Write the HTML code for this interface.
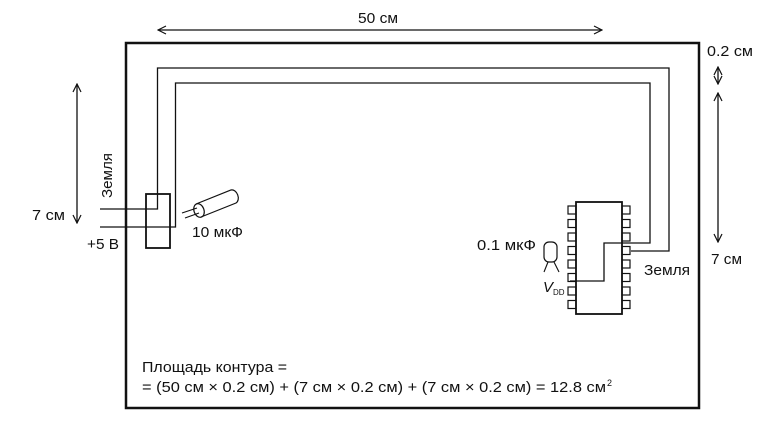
<!DOCTYPE html>
<html><head><meta charset="utf-8"><style>
html,body{margin:0;padding:0;background:#fff;}
svg{display:block;}
text{font-family:"Liberation Sans",sans-serif;fill:#111;}
</style></head><body>
<svg width="782" height="421" viewBox="0 0 782 421" font-size="15">
<defs>
<marker id="a" markerWidth="10" markerHeight="10" refX="9" refY="5" orient="auto-start-reverse" markerUnits="userSpaceOnUse">
<path d="M1,1 L9,5 L1,9" fill="none" stroke="#111" stroke-width="1.2"/></marker>
</defs>
<g stroke="#111" fill="none">
<rect x="126" y="43" width="573" height="365" stroke-width="2.5"/>
<polyline points="100,209 157.5,209 157.5,68 669,68 669,251 631,251" stroke-width="1.3"/>
<polyline points="100,227 175.5,227 175.5,83 650,83 650,243 604,243 604,281 570,281" stroke-width="1.3"/>
<rect x="146" y="194" width="24" height="54" stroke-width="1.8"/>
<line x1="182" y1="213" x2="197" y2="208" stroke-width="1.1"/>
<line x1="185" y1="218" x2="199" y2="213" stroke-width="1.1"/>
<path d="M196,204 L231,190 A5,7 -20 0 1 236,203 L201,217" stroke-width="1.2"/>
<ellipse cx="199" cy="210.5" rx="5" ry="7" transform="rotate(-20 199 210.5)" stroke-width="1.2"/>
<rect x="576" y="202" width="46" height="112" stroke-width="1.8"/>
<g stroke-width="1.2">
<rect x="568" y="206" width="8" height="8"/><rect x="568" y="219.5" width="8" height="8"/><rect x="568" y="233" width="8" height="8"/><rect x="568" y="246.5" width="8" height="8"/><rect x="568" y="260" width="8" height="8"/><rect x="568" y="273.5" width="8" height="8"/><rect x="568" y="287" width="8" height="8"/><rect x="568" y="300.5" width="8" height="8"/>
<rect x="622" y="206" width="8" height="8"/><rect x="622" y="219.5" width="8" height="8"/><rect x="622" y="233" width="8" height="8"/><rect x="622" y="246.5" width="8" height="8"/><rect x="622" y="260" width="8" height="8"/><rect x="622" y="273.5" width="8" height="8"/><rect x="622" y="287" width="8" height="8"/><rect x="622" y="300.5" width="8" height="8"/>
</g>
<rect x="544" y="242" width="13" height="20" rx="5" stroke-width="1.2"/>
<line x1="548" y1="262" x2="544" y2="272" stroke-width="1.1"/>
<line x1="554" y1="262" x2="559" y2="272" stroke-width="1.1"/>
<line x1="158" y1="30" x2="602" y2="30" stroke-width="1.3" marker-start="url(#a)" marker-end="url(#a)"/>
<line x1="77" y1="84" x2="77" y2="223" stroke-width="1.3" marker-start="url(#a)" marker-end="url(#a)"/>
<line x1="718" y1="67" x2="718" y2="84" stroke-width="1.3" marker-start="url(#a)" marker-end="url(#a)"/>
<line x1="718" y1="93" x2="718" y2="242" stroke-width="1.3" marker-start="url(#a)" marker-end="url(#a)"/>
</g>
<g>
<text x="358" y="23" textLength="40" lengthAdjust="spacingAndGlyphs">50 см</text>
<text x="32" y="220" textLength="33" lengthAdjust="spacingAndGlyphs">7 см</text>
<text x="0" y="0" transform="translate(112,198) rotate(-90)" textLength="45" lengthAdjust="spacingAndGlyphs">Земля</text>
<text x="87" y="249" textLength="32" lengthAdjust="spacingAndGlyphs">+5 В</text>
<text x="192" y="237" textLength="51" lengthAdjust="spacingAndGlyphs">10 мкФ</text>
<text x="707" y="56" textLength="46" lengthAdjust="spacingAndGlyphs">0.2 см</text>
<text x="711" y="264" textLength="31" lengthAdjust="spacingAndGlyphs">7 см</text>
<text x="644" y="275" textLength="46" lengthAdjust="spacingAndGlyphs">Земля</text>
<text x="477" y="250" textLength="59" lengthAdjust="spacingAndGlyphs">0.1 мкФ</text>
<text x="543" y="292" style="font-style:italic;font-size:15px">V</text><text x="553" y="295" style="font-size:8px">DD</text>
<text x="142" y="372" textLength="145" lengthAdjust="spacingAndGlyphs">Площадь контура =</text>
<text x="142" y="392" textLength="464" lengthAdjust="spacingAndGlyphs">= (50 см × 0.2 см) + (7 см × 0.2 см) + (7 см × 0.2 см) = 12.8 см</text>
<text x="607" y="386" style="font-size:9px">2</text>
</g>
</svg>
</body></html>
